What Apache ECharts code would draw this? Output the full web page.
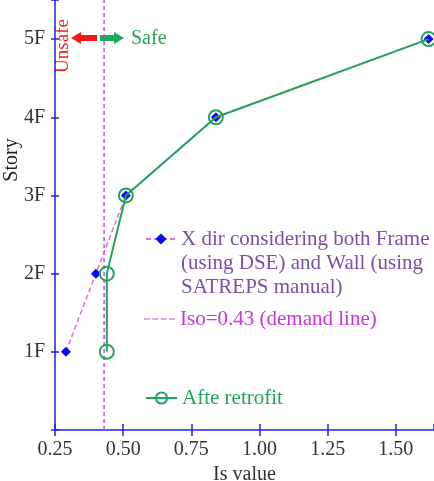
<!DOCTYPE html>
<html><head><meta charset="utf-8">
<script src="https://cdn.jsdelivr.net/npm/echarts@6/dist/echarts.min.js"></script>
<style>html,body{margin:0;padding:0;background:#fff}#c{width:434px;height:481px}</style>
</head><body><div id="c"></div>
<script>
const stories = ['1F','2F','3F','4F','5F'];
const storyLevels = [1,2,3,4,5];
const xDirValues = [0.29, 0.40, 0.51, 0.84, 1.62];
const retrofitValues = [0.44, 0.44, 0.51, 0.84, 1.62];
const isoValue = 0.43;
const storyLabelColors = ['#ee2a2a','#3cb4e8','#e050c8','#2a2ad8','#2aa86a'];
const xMin = 0.25, xMax = 1.64, xInterval = 0.25;
const yMin = 0, yMax = 5.5;

const nameX = 'X dir considering both Frame\n(using DSE) and Wall (using\nSATREPS manual)';
const nameIso = 'Iso=0.43 (demand line)';
const nameAfter = 'Afte retrofit';
const FONT = 'Liberation Serif';
const axisBlue = '#2020e8';

const chart = echarts.init(document.getElementById('c'));
chart.setOption({
  animation: false,
  textStyle: {fontFamily: FONT},
  grid: {left: 55, right: 0, top: 0, bottom: 51, outerBoundsMode: 'none', containLabel: false},
  xAxis: [{
    type: 'value', min: xMin, max: xMax, interval: xInterval,
    name: 'Is value', nameLocation: 'middle', nameGap: 30,
    nameTextStyle: {fontFamily: FONT, fontSize: 20, color: '#333'},
    axisLine: {lineStyle: {color: axisBlue, width: 1.5}},
    axisTick: {lineStyle: {color: axisBlue, width: 1.5}, length: 6},
    axisLabel: {fontFamily: FONT, fontSize: 20, color: '#333', margin: 10, showMaxLabel: false,
      formatter: v => v.toFixed(2)},
    splitLine: {show: false}
  }, {
    type: 'value', min: xMin, max: xMax, interval: xInterval, position: 'bottom',
    axisLine: {show: false}, axisLabel: {show: false}, splitLine: {show: false},
    axisTick: {inside: true, length: 6, lineStyle: {color: axisBlue, width: 1.5}}
  }],
  yAxis: [{
    type: 'value', min: yMin, max: yMax, interval: 1,
    axisLine: {show: true, lineStyle: {color: axisBlue, width: 1.5}},
    axisTick: {show: true, length: 4, lineStyle: {color: axisBlue, width: 1.5}},
    axisLabel: {fontFamily: FONT, fontSize: 20, margin: 10,
      formatter: v => { const i = storyLevels.indexOf(v); return i >= 0 ? stories[i] : ''; },
      color: v => { const i = storyLevels.indexOf(v); return i >= 0 ? storyLabelColors[i] : '#333'; }},
    splitLine: {show: false}
  }, {
    type: 'value', min: yMin, max: yMax, interval: 1, position: 'left',
    axisLine: {show: false}, axisLabel: {show: false}, splitLine: {show: false},
    axisTick: {show: true, inside: true, length: 4, lineStyle: {color: axisBlue, width: 1.5}}
  }],
  legend: [{
    left: 145, top: 179, padding: 0, itemWidth: 30, itemHeight: 14,
    formatter: name => '\n\n' + name,
    data: [{name: nameX, textStyle: {color: '#7a4fa8', fontSize: 21, fontFamily: FONT, lineHeight: 24}}]
  }, {
    left: 144, top: 307, padding: 0, itemWidth: 31, itemHeight: 2,
    icon: 'path://M0,0h6v1h-6zM8,0h6v1h-6zM16,0h6v1h-6zM24,0h6v1h-6z',
    data: [{name: nameIso, textStyle: {color: '#cc33dd', fontSize: 21, fontFamily: FONT, lineHeight: 24}}]
  }, {
    left: 145, top: 386, padding: 0, itemWidth: 31, itemHeight: 14,
    data: [{name: nameAfter, textStyle: {color: '#22a35a', fontSize: 21, fontFamily: FONT, lineHeight: 24}}]
  }],
  series: [{
    name: nameIso, type: 'line', symbol: 'none',
    data: [[isoValue, yMin], [isoValue, yMax]],
    lineStyle: {color: '#c848e8', width: 1.5, type: [4, 3]},
    itemStyle: {color: '#c848e8'}, z: 1
  }, {
    name: nameX, type: 'line', symbol: 'diamond', symbolSize: 10,
    data: xDirValues.map((v, i) => [v, storyLevels[i]]),
    itemStyle: {color: '#0a0aee'},
    lineStyle: {color: '#e070d0', width: 1.5, type: [5, 3]}, z: 2
  }, {
    name: nameAfter, type: 'line', symbol: 'circle', symbolSize: 14,
    data: retrofitValues.map((v, i) => [v, storyLevels[i]]),
    itemStyle: {color: 'rgba(255,255,255,0)', borderColor: '#22a35a', borderWidth: 2},
    lineStyle: {color: '#22a35a', width: 2}, z: 3
  }],
  graphic: [
    {type: 'text', x: 12, y: 160, rotation: Math.PI / 2,
     style: {text: 'Story', font: '20px "Liberation Serif"', fill: '#222', align: 'center', verticalAlign: 'middle'}},
    {type: 'text', x: 63, y: 46, rotation: Math.PI / 2,
     style: {text: 'Unsafe', font: '19px "Liberation Serif"', fill: '#ee2222', align: 'center', verticalAlign: 'middle'}},
    {type: 'polygon', shape: {points: [[71,38],[81,32],[81,35],[97,35],[97,41],[81,41],[81,44]]}, style: {fill: '#ee1c1c'}},
    {type: 'polygon', shape: {points: [[100,35],[114,35],[114,32],[124,38],[114,44],[114,41],[100,41]]}, style: {fill: '#1ea85a'}},
    {type: 'text', x: 131, y: 39,
     style: {text: 'Safe', font: '20px "Liberation Serif"', fill: '#22a35a', align: 'left', verticalAlign: 'middle'}}
  ]
});
</script></body></html>
